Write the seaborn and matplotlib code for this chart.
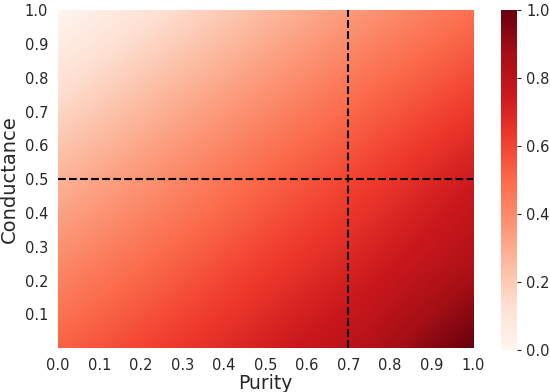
import numpy as np
import matplotlib
matplotlib.use('Agg')
import matplotlib.pyplot as plt
import seaborn as sns

# grid of values (rows: conductance from top to bottom, cols: purity)
purity = [0.0, 0.25, 0.5, 0.75, 1.0]
conductance = [1.0, 0.75, 0.5, 0.25, 0.0]
row_c100 = [0.00, 0.12, 0.25, 0.37, 0.48]
row_c075 = [0.13, 0.26, 0.38, 0.50, 0.61]
row_c050 = [0.27, 0.39, 0.51, 0.62, 0.74]
row_c025 = [0.40, 0.51, 0.62, 0.72, 0.84]
row_c000 = [0.52, 0.62, 0.72, 0.83, 1.00]

x_ticks = [0.0, 0.1, 0.2, 0.3, 0.4, 0.5, 0.6, 0.7, 0.8, 0.9, 1.0]
y_ticks = [0.1, 0.2, 0.3, 0.4, 0.5, 0.6, 0.7, 0.8, 0.9, 1.0]
cbar_ticks = [0.0, 0.2, 0.4, 0.6, 0.8, 1.0]
purity_cut = 0.7
conductance_cut = 0.5

sns.set_style('white')
cmap = sns.color_palette('Reds', as_cmap=True)

grid = np.array([row_c100, row_c075, row_c050, row_c025, row_c000])

fig = plt.figure(figsize=(5.5, 3.92), dpi=100)
ax = fig.add_axes([0.105, 0.112, 0.755, 0.862])
cax = fig.add_axes([0.911, 0.107, 0.029, 0.867])

# half a cell of padding so the grid points sit on the axes edges
h = 0.125
im = ax.imshow(grid, cmap=cmap, vmin=0, vmax=1, aspect='auto',
               interpolation='bilinear', extent=[-h, 1 + h, -h, 1 + h])
ax.set_xlim(0, 1)
ax.set_ylim(0, 1)

ax.axvline(purity_cut, color='black', ls='--', lw=1.5)
ax.axhline(conductance_cut, color='black', ls='--', lw=1.5)

ax.set_xticks(x_ticks)
ax.set_xticklabels(['%.1f' % t for t in x_ticks], fontsize=10.5)
ax.set_yticks(y_ticks)
ax.set_yticklabels(['%.1f' % t for t in y_ticks], fontsize=10.5)
ax.set_xlabel('Purity', fontsize=13.5, labelpad=1)
ax.set_ylabel('Conductance', fontsize=14, labelpad=4)
for s in ax.spines.values():
    s.set_visible(False)

cb = fig.colorbar(im, cax=cax, ticks=cbar_ticks)
cb.ax.set_yticklabels(['%.1f' % t for t in cbar_ticks], fontsize=10.5)
cb.outline.set_visible(False)
cb.ax.tick_params(length=3)

plt.savefig('out.png', dpi=100)
